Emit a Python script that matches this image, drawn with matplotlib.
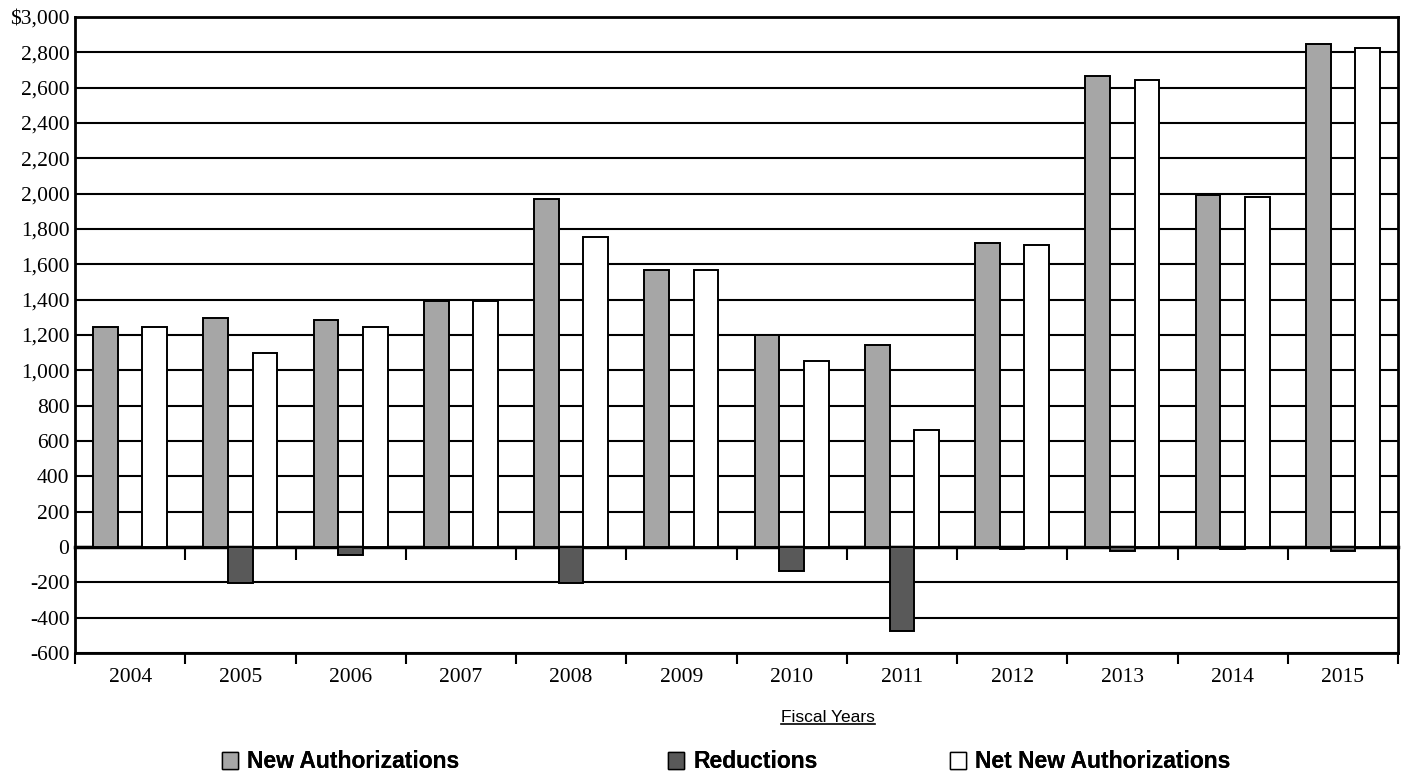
import matplotlib
matplotlib.use("Agg")
import matplotlib.pyplot as plt
import numpy as np
from matplotlib.patches import Patch
from matplotlib.lines import Line2D

years = ["2004", "2005", "2006", "2007", "2008", "2009", "2010", "2011",
         "2012", "2013", "2014", "2015"]
new_auth = [1243, 1299, 1286, 1390, 1968, 1566, 1200, 1145, 1720, 2668, 1990, 2847]
reductions = [0, -205, -45, 0, -205, 0, -137, -475, -10, -25, -10, -25]
net_new = [1243, 1097, 1243, 1390, 1755, 1566, 1055, 665, 1710, 2645, 1981, 2823]
yticks = list(range(-600, 3001, 200))
ytick_labels = ["$3,000" if v == 3000 else f"{v:,}" for v in yticks]
series_labels = ["New Authorizations", "Reductions", "Net New Authorizations"]
series_colors = ["#a6a6a6", "#595959", "white"]

fig = plt.figure(figsize=(14.05, 7.82), dpi=100)
ax = fig.add_axes([75 / 1405, 1 - 653 / 782, (1398 - 75) / 1405, (653 - 17) / 782])

x = np.arange(len(years))
w = 0.223
ec = "black"
lw = 1.4
ax.bar(x - w, new_auth, w, color=series_colors[0], edgecolor=ec, linewidth=lw, zorder=3)
ax.bar(x, reductions, w, color=series_colors[1], edgecolor=ec, linewidth=lw, zorder=3)
ax.bar(x + w, net_new, w, color=series_colors[2], edgecolor=ec, linewidth=lw, zorder=3)

ax.set_xlim(-0.5, len(years) - 0.5)
ax.set_ylim(-600, 3000)
ax.set_yticks(yticks)
ax.set_yticklabels(ytick_labels, fontfamily="Liberation Serif", fontsize=15.5)
ax.yaxis.grid(True, color="black", linewidth=1.5, zorder=0)
ax.set_axisbelow(True)
ax.tick_params(axis="y", length=0, pad=4)

ax.set_xticks(x)
ax.set_xticklabels(years, fontfamily="Liberation Serif", fontsize=15.5)
ax.set_xticks(np.arange(-0.5, len(years) - 0.5 + 0.01, 1), minor=True)
ax.tick_params(axis="x", which="major", length=0, pad=11)
ax.tick_params(axis="x", which="minor", length=8, width=1.5, direction="out")

for s in ax.spines.values():
    s.set_linewidth(2)

# zero axis line with ticks
zero_frac = 600 / 3600
sec = ax.secondary_xaxis(zero_frac)
sec.set_xticks(np.arange(-0.5, len(years) - 0.5 + 0.01, 1))
sec.tick_params(axis="x", length=9, width=1.5, direction="out", labelbottom=False,
                labeltop=False, bottom=True, top=False)
sec.xaxis.set_ticks_position("bottom")
sec.set_xticklabels([])
sec.spines["bottom"].set_linewidth(2.5)
for k in ["top", "left", "right"]:
    sec.spines[k].set_visible(False)

# x label underlined
txt = fig.text(828 / 1405, 1 - 717 / 782, "Fiscal Years", fontfamily="Liberation Sans",
               fontsize=12.5, ha="center", va="center")
fig.canvas.draw()
bb = txt.get_window_extent().transformed(fig.transFigure.inverted())
fig.add_artist(Line2D([bb.x0, bb.x1], [bb.y0 + 0.001, bb.y0 + 0.001], color="black",
                      linewidth=1.2, transform=fig.transFigure))

# legend entries, each placed separately
legend_left_px = [222, 668, 950]
for lab, col, lx in zip(series_labels, series_colors, legend_left_px):
    h = Patch(facecolor=col, edgecolor="black", linewidth=1)
    leg = fig.legend([h], [lab], loc="center left", bbox_to_anchor=(lx / 1405, 1 - 762 / 782),
                     frameon=False, handlelength=0.7, handleheight=0.7, handletextpad=0.4,
                     borderpad=0, borderaxespad=0,
                     prop={"family": "Liberation Sans", "weight": "bold", "size": 16.5})
    fig.add_artist(leg)

fig.savefig("out.png", dpi=100)
